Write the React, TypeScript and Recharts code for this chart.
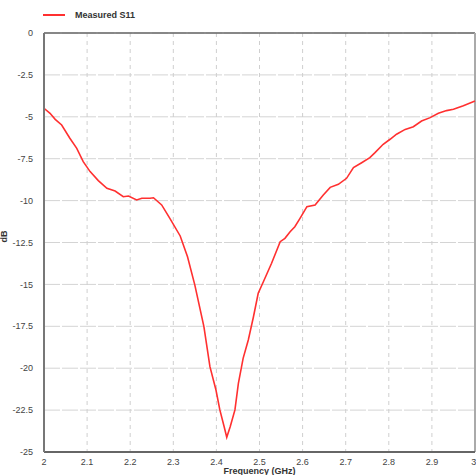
import { LineChart, Line, XAxis, YAxis, CartesianGrid, ReferenceLine } from "recharts";

const freq = [
  2.0, 2.014, 2.026, 2.041, 2.06, 2.076, 2.091, 2.107, 2.126, 2.146, 2.165, 2.184, 2.196,
  2.215, 2.227, 2.246, 2.254, 2.273, 2.292, 2.316, 2.333, 2.35, 2.371, 2.385, 2.399,
  2.408, 2.418, 2.424, 2.432, 2.443, 2.451, 2.462, 2.474, 2.486, 2.497, 2.509, 2.528,
  2.548, 2.559, 2.571, 2.582, 2.594, 2.61, 2.629, 2.648, 2.664, 2.683, 2.702, 2.718,
  2.737, 2.756, 2.768, 2.787, 2.803, 2.818, 2.838, 2.857, 2.876, 2.896, 2.915, 2.934,
  2.95, 2.973, 3.0,
];

const s11 = [
  -4.49, -4.79, -5.15, -5.49, -6.28, -6.88, -7.68, -8.27, -8.81, -9.27, -9.43, -9.77, -9.73,
  -9.96, -9.86, -9.86, -9.83, -10.26, -11.06, -12.11, -13.35, -15.04, -17.52, -19.91, -21.3,
  -22.49, -23.49, -24.12, -23.49, -22.49, -20.9, -19.41, -18.32, -16.93, -15.53, -14.84, -13.74,
  -12.45, -12.25, -11.86, -11.56, -11.06, -10.36, -10.26, -9.67, -9.21, -9.03, -8.67, -8.03,
  -7.74, -7.44, -7.14, -6.64, -6.34, -6.04, -5.75, -5.59, -5.25, -5.05, -4.79, -4.63,
  -4.55, -4.34, -4.06,
];

const xTicks = [2, 2.1, 2.2, 2.3, 2.4, 2.5, 2.6, 2.7, 2.8, 2.9, 3];
const yTicks = [0, -2.5, -5, -7.5, -10, -12.5, -15, -17.5, -20, -22.5, -25];

const data = freq.map((f, i) => ({ f, s11: s11[i] }));

const tickStyle = { fill: "#444", fontSize: 9, fontFamily: "Liberation Sans, Arial, sans-serif" };

export default function App() {
  return (
    <div style={{ position: "absolute", left: 0, top: 0, width: 476, height: 475, background: "#fff", fontFamily: "Liberation Sans, Arial, sans-serif" }}>
      <div style={{ position: "absolute", left: 43, top: 10, display: "flex", alignItems: "center", fontSize: 9, fontWeight: "bold", color: "#333" }}>
        <span style={{ display: "inline-block", width: 22, height: 2, background: "#ff3030", marginRight: 10 }} />
        Measured S11
      </div>
      <LineChart width={476} height={475} data={data} margin={{ top: 33, right: 1, left: 0, bottom: 0 }}>
        <CartesianGrid horizontal={true} vertical={false} stroke="#d4d4d4" strokeDasharray="16 2" />
        <CartesianGrid horizontal={false} vertical={true} stroke="#cfcfcf" strokeDasharray="4 4" />
        <XAxis
          dataKey="f"
          type="number"
          domain={[2, 3]}
          ticks={xTicks}
          tickFormatter={(v: number) => String(Number(v.toFixed(1)))}
          tick={tickStyle}
          tickLine={false}
          axisLine={{ stroke: "#666", strokeWidth: 2 }}
          height={23}
          tickMargin={1}
          label={{ value: "Frequency (GHz)", position: "insideBottom", offset: 1, style: { fontSize: 9, fontWeight: "bold", fill: "#333" } }}
        />
        <YAxis
          type="number"
          domain={[-25, 0]}
          ticks={yTicks}
          tick={tickStyle}
          tickLine={false}
          axisLine={{ stroke: "#777", strokeWidth: 2 }}
          width={44}
          tickMargin={5}
          label={{ value: "dB", angle: -90, position: "insideLeft", offset: 4, style: { fontSize: 9, fontWeight: "bold", fill: "#333" } }}
        />
        <ReferenceLine y={0} stroke="#666" strokeWidth={1.5} />
        <ReferenceLine x={3} stroke="#aaa" strokeWidth={2} />
        <Line type="linear" dataKey="s11" stroke="#ff3030" strokeWidth={1.6} dot={false} isAnimationActive={false} />
      </LineChart>
    </div>
  );
}
